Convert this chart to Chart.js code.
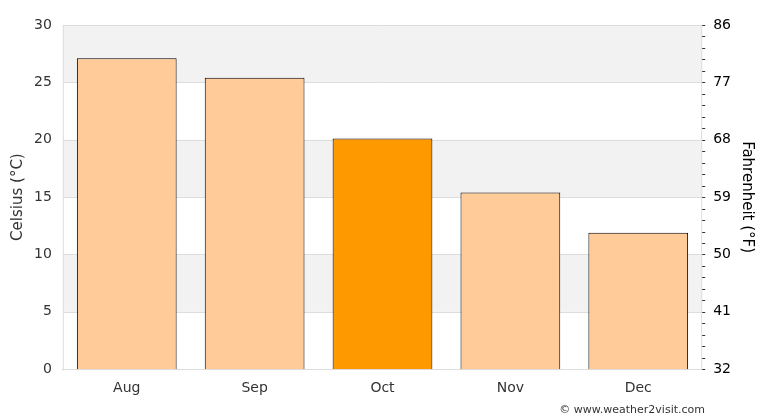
<!DOCTYPE html><html><head><script src="https://cdn.jsdelivr.net/npm/chart.js@4"></script>
<style>body{margin:0;background:#fff}#w{width:770px;height:420px;position:relative}</style></head><body><div id="w"><canvas id="c"></canvas></div>
<script>
const categories=["Aug","Sep","Oct","Nov","Dec"];
const tempsC=[27.1,25.4,20.1,15.4,11.9];
const barColors=["#ffcc99","#ffcc99","#ff9900","#ffcc99","#ffcc99"];
const fTicks=[32,41,50,59,68,77,86];
Chart.defaults.font.family="DejaVu Sans";
Chart.defaults.font.size=14;
Chart.defaults.color="#333";
const bands={id:'bands',beforeDatasetsDraw(ch){const {ctx,chartArea:a,scales:{y}}=ch;ctx.save();ctx.fillStyle="#f2f2f2";
for(const [lo,hi] of [[5,10],[15,20],[25,30]]){const t=y.getPixelForValue(hi),b=y.getPixelForValue(lo);ctx.fillRect(a.left,t,a.right-a.left,b-t);}
ctx.strokeStyle="#ddd";ctx.lineWidth=1;for(let v=0;v<=30;v+=5){const p=Math.round(y.getPixelForValue(v))+0.5;ctx.beginPath();ctx.moveTo(a.left,p);ctx.lineTo(a.right,p);ctx.stroke();}
ctx.beginPath();ctx.moveTo(a.left+0.5,a.top);ctx.lineTo(a.left+0.5,a.bottom);ctx.moveTo(a.right-0.5,a.top);ctx.lineTo(a.right-0.5,a.bottom);ctx.stroke();
const y2=ch.scales.y2;ctx.strokeStyle="#333";for(let f=32;f<=86;f+=1.8){const p=Math.round(y2.getPixelForValue(f))+0.5;ctx.beginPath();ctx.moveTo(a.right,p);ctx.lineTo(a.right+3,p);ctx.stroke();}
ctx.restore();}};
new Chart(document.getElementById('c'),{type:'bar',data:{labels:categories,datasets:[{data:tempsC,backgroundColor:barColors,borderColor:"#000",borderWidth:1,barPercentage:0.78,categoryPercentage:1}]},
options:{responsive:true,maintainAspectRatio:false,animation:false,layout:{padding:{top:25,bottom:20,right:10,left:5}},plugins:{legend:{display:false},tooltip:{enabled:false}},
scales:{x:{grid:{display:false},border:{color:"#ccc"},ticks:{color:"#333"}},
y:{min:0,max:30,ticks:{stepSize:5,color:"#333"},grid:{display:false},border:{display:false},title:{display:true,text:"Celsius (°C)",font:{size:15},color:"#333"}},
y2:{position:'right',min:32,max:86,afterBuildTicks(s){s.ticks=fTicks.map(v=>({value:v}));},ticks:{color:"#000"},grid:{display:false,drawTicks:true},border:{display:false},title:{display:true,text:"Fahrenheit (°F)",font:{size:15},color:"#000"}}}},
plugins:[bands]});
</script>
<div style="position:absolute;right:65px;top:403px;font:11px 'DejaVu Sans';color:#333">© www.weather2visit.com</div>
</div></body></html>
